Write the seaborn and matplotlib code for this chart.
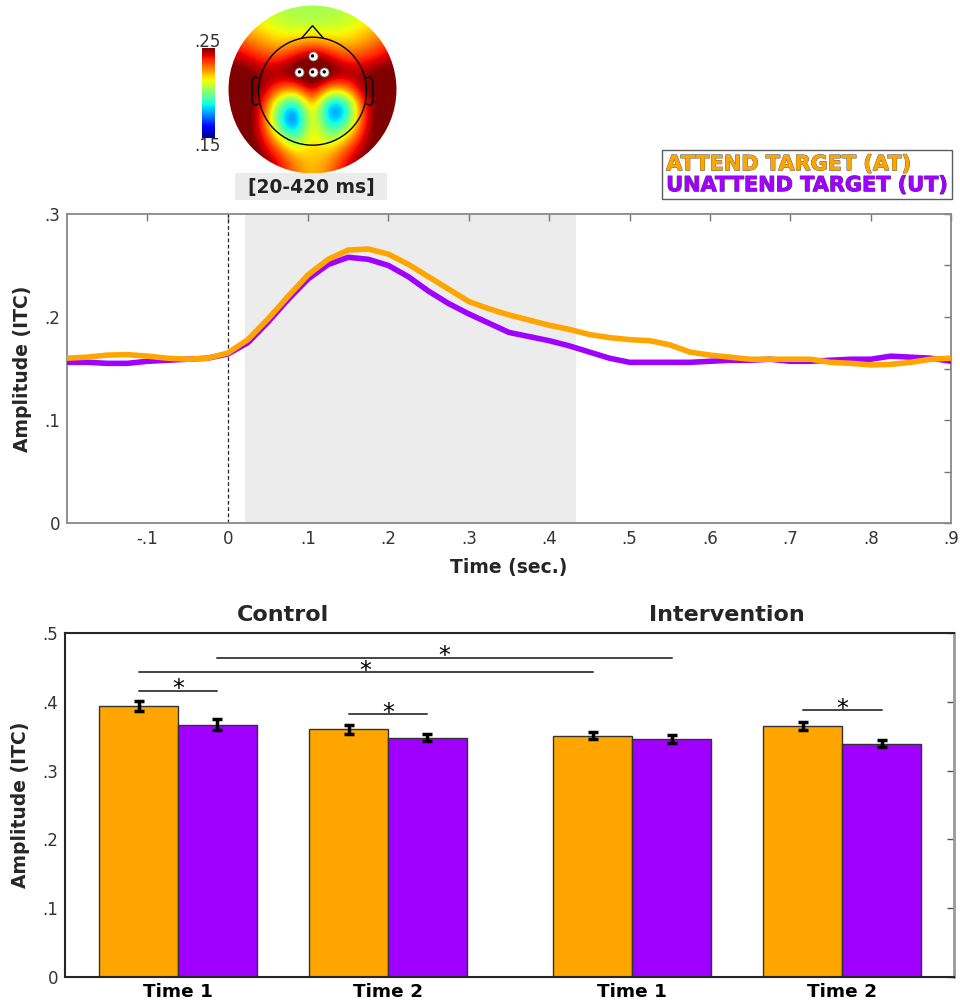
import numpy as np
import pandas as pd
import matplotlib
matplotlib.use("Agg")
import matplotlib.pyplot as plt
import matplotlib.patheffects as pe
from matplotlib.patches import Circle, Rectangle, Polygon
from matplotlib.lines import Line2D
import seaborn as sns

sns.set_style("white")
plt.rcParams['font.family'] = ['DejaVu Sans']

# ---------------- data ----------------
AT = 'ATTEND TARGET (AT)'
UT = 'UNATTEND TARGET (UT)'
COL_AT = '#FFA500'
COL_UT = '#A000FF'

time_s = [-0.200, -0.175, -0.150, -0.125, -0.100, -0.075, -0.050, -0.025,
          0.000, 0.025, 0.050, 0.075, 0.100, 0.125, 0.150, 0.175, 0.200,
          0.225, 0.250, 0.275, 0.300, 0.325, 0.350, 0.375, 0.400, 0.425,
          0.450, 0.475, 0.500, 0.525, 0.550, 0.575, 0.600, 0.625, 0.650,
          0.675, 0.700, 0.725, 0.750, 0.775, 0.800, 0.825, 0.850, 0.875, 0.900]
itc_at = [0.160, 0.161, 0.163, 0.1635, 0.162, 0.160, 0.159, 0.160,
          0.165, 0.178, 0.198, 0.220, 0.241, 0.256, 0.265, 0.266, 0.261,
          0.251, 0.239, 0.227, 0.215, 0.208, 0.202, 0.197, 0.192, 0.188,
          0.183, 0.180, 0.178, 0.177, 0.173, 0.166, 0.163, 0.161, 0.159,
          0.159, 0.159, 0.159, 0.156, 0.155, 0.1535, 0.154, 0.156, 0.159, 0.160]
itc_ut = [0.156, 0.156, 0.155, 0.155, 0.157, 0.158, 0.159, 0.160,
          0.164, 0.175, 0.195, 0.217, 0.237, 0.251, 0.258, 0.256, 0.250,
          0.239, 0.225, 0.213, 0.203, 0.194, 0.185, 0.181, 0.177, 0.172,
          0.166, 0.160, 0.156, 0.156, 0.156, 0.156, 0.157, 0.158, 0.158,
          0.159, 0.157, 0.157, 0.158, 0.159, 0.159, 0.162, 0.161, 0.160, 0.157]
window_s = [0.022, 0.433]
line_xticks = [-0.1, 0.0, 0.1, 0.2, 0.3, 0.4, 0.5, 0.6, 0.7, 0.8, 0.9]
line_xticklabels = ['-.1', '0', '.1', '.2', '.3', '.4', '.5', '.6', '.7', '.8', '.9']
line_yticks = [0.0, 0.1, 0.2, 0.3]
line_yticklabels = ['0', '.1', '.2', '.3']

groups = ['Control', 'Control', 'Intervention', 'Intervention']
sessions = ['Time 1', 'Time 2', 'Time 1', 'Time 2']
bar_at = [0.394, 0.360, 0.351, 0.365]
bar_ut = [0.367, 0.348, 0.346, 0.339]
err_at = [0.007, 0.007, 0.005, 0.0055]
err_ut = [0.0085, 0.0055, 0.0055, 0.005]
bar_yticks = [0.0, 0.1, 0.2, 0.3, 0.4, 0.5]
bar_yticklabels = ['0', '.1', '.2', '.3', '.4', '.5']
# significance brackets: (bar a, condition a, bar b, condition b, height)
sig_pairs = [(0, AT, 0, UT, 0.416),
             (0, AT, 2, AT, 0.443),
             (0, UT, 2, UT, 0.464),
             (1, AT, 1, UT, 0.382),
             (3, AT, 3, UT, 0.388)]

# topography (ITC), rows from front (top) to back, columns left to right
topo_grid = [
    [0.210, 0.210, 0.208, 0.206, 0.205, 0.205, 0.205, 0.206, 0.208, 0.210, 0.210],
    [0.220, 0.218, 0.214, 0.210, 0.207, 0.206, 0.207, 0.210, 0.214, 0.218, 0.220],
    [0.235, 0.228, 0.222, 0.216, 0.217, 0.220, 0.217, 0.216, 0.222, 0.228, 0.235],
    [0.245, 0.242, 0.234, 0.232, 0.242, 0.252, 0.242, 0.232, 0.233, 0.240, 0.245],
    [0.255, 0.252, 0.248, 0.250, 0.258, 0.262, 0.258, 0.250, 0.248, 0.252, 0.255],
    [0.260, 0.255, 0.250, 0.230, 0.225, 0.250, 0.220, 0.224, 0.250, 0.255, 0.260],
    [0.260, 0.255, 0.240, 0.195, 0.170, 0.232, 0.165, 0.175, 0.236, 0.255, 0.260],
    [0.260, 0.255, 0.240, 0.188, 0.160, 0.228, 0.178, 0.190, 0.238, 0.255, 0.260],
    [0.260, 0.255, 0.243, 0.220, 0.195, 0.222, 0.205, 0.222, 0.243, 0.255, 0.260],
    [0.260, 0.258, 0.250, 0.238, 0.224, 0.218, 0.224, 0.238, 0.250, 0.258, 0.260],
    [0.260, 0.260, 0.255, 0.243, 0.228, 0.220, 0.228, 0.243, 0.255, 0.260, 0.260],
]
topo_range = [0.15, 0.25]
elec_x = [0.0, -0.155, 0.0, 0.14]
elec_y = [0.40, 0.21, 0.21, 0.21]

# ---------------- figure ----------------
fig = plt.figure(figsize=(9.6, 10.06), dpi=100)
W, H = 960.0, 1006.0

def box(l, t, r, b):
    return [l / W, 1 - b / H, (r - l) / W, (b - t) / H]

# ---- line chart ----
ax = fig.add_axes(box(67, 214, 951, 523))
n = len(time_s)
df_line = pd.DataFrame({'time': time_s * 2, 'itc': itc_at + itc_ut,
                        'cond': [AT] * n + [UT] * n})
ax.axvspan(window_s[0], window_s[1], color='#ececec', lw=0, zorder=0)
ax.axvline(0, color='#222222', ls=(0, (3, 2)), lw=0.9, zorder=1)
sns.lineplot(data=df_line, x='time', y='itc', hue='cond', hue_order=[UT, AT],
             palette={AT: COL_AT, UT: COL_UT}, lw=4, legend=False,
             estimator=None, sort=False, ax=ax, zorder=3)
for ln in ax.get_lines():
    ln.set_solid_joinstyle('round')
ax.set_xlim(-0.2, 0.9)
ax.set_ylim(0, 0.3)
ax.set_xticks(line_xticks)
ax.set_xticklabels(line_xticklabels)
ax.set_yticks(line_yticks)
ax.set_yticklabels(line_yticklabels)
ax.set_yticks([0.05, 0.15, 0.25], minor=True)
ax.tick_params(which='both', direction='in', top=True, right=True, length=5,
               width=1, color='#777777', labelsize=12, labelcolor='#333333', pad=5)
ax.tick_params(which='minor', labelleft=False)
for s in ax.spines.values():
    s.set_color('#888888')
    s.set_linewidth(1.3)
ax.set_xlabel('Time (sec.)', fontweight='bold', fontsize=13.5, labelpad=7)
ax.set_ylabel('Amplitude (ITC)', fontweight='bold', fontsize=13.5, labelpad=9)

handles = [Line2D([], [], color=COL_AT, lw=0), Line2D([], [], color=COL_UT, lw=0)]
leg = ax.legend(handles, [AT, UT], loc='upper right',
                bbox_to_anchor=(952 / W, 1 - 150 / H), bbox_transform=fig.transFigure,
                handlelength=0, handletextpad=0, borderpad=0.2, labelspacing=0.05,
                fancybox=False, frameon=True, borderaxespad=0,
                prop={'weight': 'bold', 'size': 15.0})
leg.get_frame().set_edgecolor('#333333')
leg.get_frame().set_linewidth(1.0)
for t, c in zip(leg.get_texts(), [COL_AT, COL_UT]):
    t.set_color(c)
    t.set_path_effects([pe.withStroke(linewidth=0.8, foreground='#555555'), pe.Normal()])

# ---- bar chart ----
axb = fig.add_axes(box(65, 633, 954, 977))
bar_pos = [0.0, 1.0, 2.162, 3.162]
df_bar = pd.DataFrame({'pos': bar_pos * 2, 'val': bar_at + bar_ut,
                       'cond': [AT] * 4 + [UT] * 4})
sns.barplot(data=df_bar, x='pos', y='val', hue='cond', hue_order=[AT, UT],
            palette={AT: COL_AT, UT: COL_UT}, native_scale=True, width=0.752,
            saturation=1, edgecolor='#333333', linewidth=1, errorbar=None,
            legend=False, ax=axb)
centers = {}
for cond, cont, errs, vals in [(AT, axb.containers[0], err_at, bar_at),
                               (UT, axb.containers[1], err_ut, bar_ut)]:
    xc = [p.get_x() + p.get_width() / 2 for p in cont.patches]
    centers[cond] = xc
    axb.errorbar(xc, vals, yerr=errs, fmt='none', ecolor='black',
                 elinewidth=2.5, capsize=3.5, capthick=2.5, zorder=4)
for a, ca, b, cb_, h in sig_pairs:
    x0 = centers[ca][a]
    x1 = centers[cb_][b]
    axb.plot([x0, x1], [h, h], color='#444444', lw=1.4, zorder=4)
    axb.annotate('*', xy=((x0 + x1) / 2, h), xytext=(0, -4), textcoords='offset points',
                 ha='center', va='baseline', fontsize=17, color='black')
axb.set_xlim(-0.538, 3.695)
axb.set_ylim(0, 0.5)
axb.set_xticks(bar_pos)
axb.set_xticklabels(sessions, fontweight='bold', fontsize=13.3)
axb.set_yticks(bar_yticks)
axb.set_yticklabels(bar_yticklabels)
axb.tick_params(axis='y', direction='in', right=True, length=5, width=1,
                color='#555555', labelsize=12, labelcolor='#333333', pad=5)
axb.tick_params(axis='x', length=0, pad=4, labelcolor='black')
for k in ['left', 'top', 'bottom']:
    axb.spines[k].set_color('#262626')
    axb.spines[k].set_linewidth(1.5)
axb.spines['right'].set_color('#999999')
axb.spines['right'].set_linewidth(2)
axb.set_xlabel('')
axb.set_ylabel('Amplitude (ITC)', fontweight='bold', fontsize=13.5, labelpad=9)
tr = axb.get_xaxis_transform()
axb.text(0.5, 1.053, 'Control', transform=tr, ha='center', va='center',
         fontweight='bold', fontsize=16)
axb.text(2.614, 1.053, 'Intervention', transform=tr, ha='center', va='center',
         fontweight='bold', fontsize=16)

# ---- topography ----
axt = fig.add_axes(box(225, 2, 400, 177))
im = axt.imshow(np.array(topo_grid), extent=[-1.1, 1.1, -1.1, 1.1], cmap='jet',
                vmin=topo_range[0], vmax=topo_range[1], interpolation='bicubic',
                origin='upper')
im.set_clip_path(Circle((0, 0), 1.0, transform=axt.transData))
axt.add_patch(Circle((0, -0.02), 0.643, fill=False, ec='black', lw=1.0))
axt.add_patch(Polygon([(-0.13, 0.61), (0, 0.76), (0.13, 0.61)], closed=False,
                      fill=False, ec='black', lw=1.0))
for sgn in (-1, 1):
    axt.plot([sgn * 0.64, sgn * 0.69, sgn * 0.72, sgn * 0.72, sgn * 0.69, sgn * 0.64],
             [0.14, 0.15, 0.10, -0.14, -0.19, -0.17], color='black', lw=1.0)
axt.scatter(elec_x, elec_y, s=42, facecolor='white', edgecolor='#888888', lw=0.6, zorder=5)
axt.scatter(elec_x, elec_y, s=6, facecolor='black', edgecolor='none', zorder=6)
axt.set_xlim(-1.042, 1.042)
axt.set_ylim(-1.042, 1.042)
axt.set_aspect('equal')
axt.axis('off')

cax = fig.add_axes(box(202, 48, 215, 138))
cbar = fig.colorbar(im, cax=cax)
cbar.set_ticks([])
cbar.outline.set_visible(False)
fig.text(207 / W, 1 - 42 / H, '.25', ha='center', va='center', fontsize=12, color='#333333')
fig.text(207 / W, 1 - 146 / H, '.15', ha='center', va='center', fontsize=12, color='#333333')

fig.patches.append(Rectangle((235 / W, 1 - 200 / H), 152 / W, 27 / H,
                             transform=fig.transFigure, fc='#ebebeb', ec='none'))
fig.text(311 / W, 1 - 187 / H, '[20-420 ms]', ha='center', va='center',
         fontweight='bold', fontsize=13.4, color='#222222')

fig.savefig('out.png', dpi=100)
